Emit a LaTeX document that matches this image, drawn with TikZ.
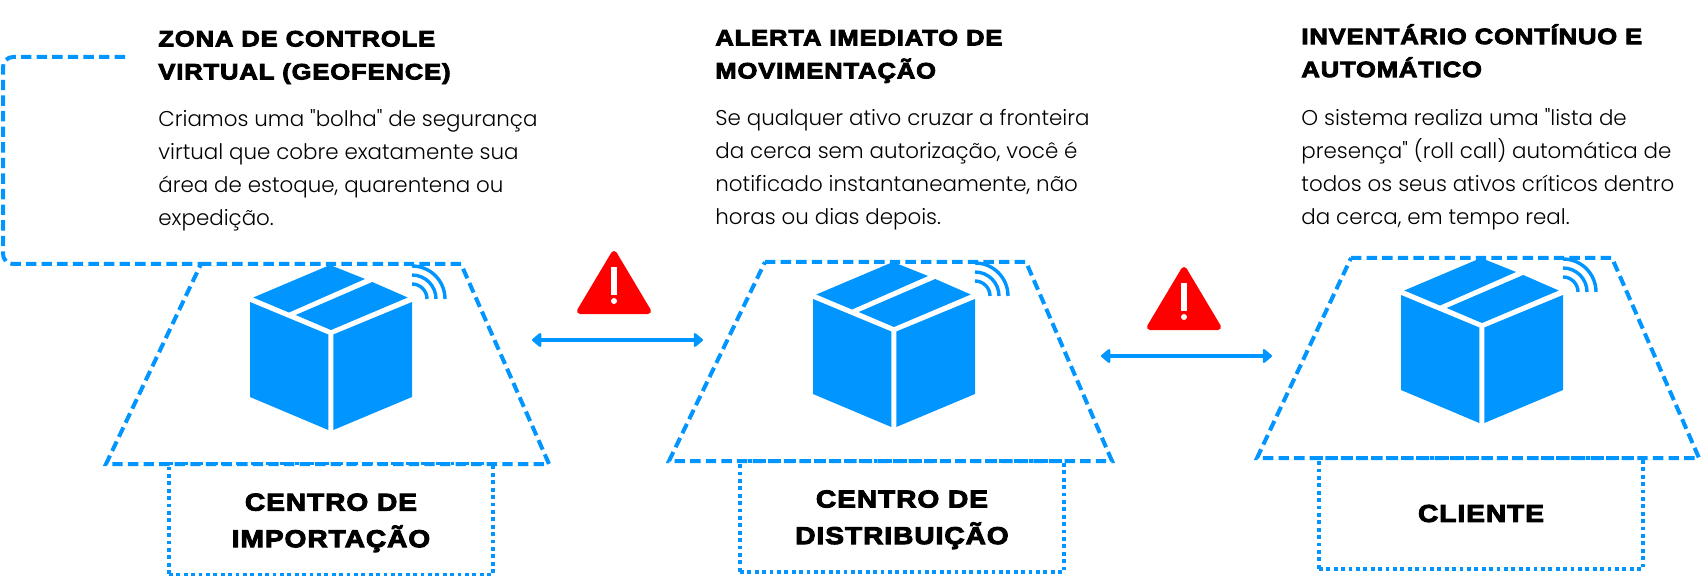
\documentclass[tikz,border=0pt]{standalone}
\usepackage{fontspec}
\usepackage{tikz}
\usetikzlibrary{arrows.meta,positioning,calc}
\newfontfamily\bodyfont{Poppins Light}
\newfontfamily\headfont[FakeBold=4,FakeStretch=1.15,LetterSpace=4]{Liberation Sans Bold}
\definecolor{fenceblue}{RGB}{0,149,255}
\definecolor{alertred}{RGB}{255,0,0}
\tikzset{
  fenceline/.style={draw=fenceblue,line width=2pt,dash pattern=on 5.2pt off 2.6pt},
  placebox/.style={draw=fenceblue,line width=1.9pt,dash pattern=on 1.9pt off 1.8pt,
    minimum width=162pt,minimum height=55.5pt,align=center,inner sep=0pt,
    font=\headfont\fontsize{12.2}{18.3}\selectfont},
  headtext/.style={anchor=north west,align=left,inner sep=0pt,
    font=\headfont\fontsize{11.1}{16.5}\selectfont},
  bodytext/.style={anchor=north west,align=left,inner sep=0pt,
    font=\bodyfont\fontsize{10.7}{16.5}\selectfont},
  linkarrow/.style={{Triangle[round,length=5pt,width=8pt]}-{Triangle[round,length=5pt,width=8pt]},
    draw=fenceblue,line width=1.9pt},
  cubepic/.pic={
    \fill[fenceblue] (250,302) -- (328.3,334.5) -- (328.3,430) -- (250,397) -- cycle;
    \fill[fenceblue] (333.3,334.5) -- (412,302) -- (412,397) -- (333.3,430) -- cycle;
    \fill[fenceblue] (253.3,297.5) -- (330,265) -- (365,279) -- (289,312.5) -- cycle;
    \fill[fenceblue] (295.7,315) -- (372.3,282) -- (407.7,297.5) -- (331,330) -- cycle;
    \foreach \r in {15,24,33}
      \draw[fenceblue,line width=1.7pt] (412,299-\r) arc[start angle=90,end angle=0,x radius=\r,y radius=-\r];
  },
  alertpic/.pic={
    \filldraw[alertred,line width=3pt,line join=round] (614,254) -- (648,311) -- (580,311) -- cycle;
    \fill[white] (610.7,267) rectangle (617,295);
    \fill[white] (614,301) circle[radius=3];
  },
}
\begin{document}
\begin{tikzpicture}[x=0.5pt,y=-0.5pt]
  \useasboundingbox (0,0) rectangle (1702,577);
  % boxes
  \node[placebox] (importacao) at (331,519) {\rule{0pt}{12.4pt}CENTRO DE\\IMPORTAÇÃO};
  \node[placebox] (distribuicao) at (902,516.5) {\rule{0pt}{11.8pt}CENTRO DE\\DISTRIBUIÇÃO};
  \node[placebox] (cliente) at (1481,513.5) {CLIENTE};
  % fence
  \draw[fenceline,rounded corners=5pt] (125,57) -- (3,57) -- (3,264) -- (201,264);
  \draw[fenceline] (201,264) -- (461,264) -- (549,464) -- (106,464) -- cycle;
  \draw[fenceline] (765,262) -- (1026,262) -- (1112,461) -- (669,461) -- cycle;
  \draw[fenceline] (1351,258) -- (1612,258) -- (1699,458) -- (1257,458) -- cycle;
  \pic at (0,0) {cubepic};
  \pic at (563,-3) {cubepic};
  \pic at (1151,-7) {cubepic};
  \pic at (0,0) {alertpic};
  \pic at (570,16) {alertpic};
  % arrows
  \coordinate (linkaw) at (532,340);
  \coordinate (linkae) at (703,340);
  \coordinate (linkbw) at (1101,356);
  \coordinate (linkbe) at (1272,356);
  \draw[linkarrow] (linkaw) -- (linkae);
  \draw[linkarrow] (linkbw) -- (linkbe);
  % texts
  \node[headtext] (zonatitle) at (158,30.5) {ZONA DE CONTROLE\\VIRTUAL (GEOFENCE)};
  \node[bodytext,below=12.5pt of zonatitle.south west,anchor=north west] (zonatext)
    {Criamos uma "bolha" de segurança\\virtual que cobre exatamente sua\\área de estoque, quarentena ou\\expedição.};
  \node[headtext] (alertatitle) at (715,29.5) {ALERTA IMEDIATO DE\\MOVIMENTAÇÃO};
  \node[bodytext,below=12.5pt of alertatitle.south west,anchor=north west] (alertatext)
    {Se qualquer ativo cruzar a fronteira\\da cerca sem autorização, você é\\notificado instantaneamente, não\\horas ou dias depois.};
  \node[headtext] (inventtitle) at (1301,24) {INVENTÁRIO CONTÍNUO E\\AUTOMÁTICO};
  \node[bodytext,below=15pt of inventtitle.south west,anchor=north west] (inventtext)
    {O sistema realiza uma "lista de\\presença" (roll call) automática de\\todos os seus ativos críticos dentro\\da cerca, em tempo real.};
\end{tikzpicture}
\end{document}
